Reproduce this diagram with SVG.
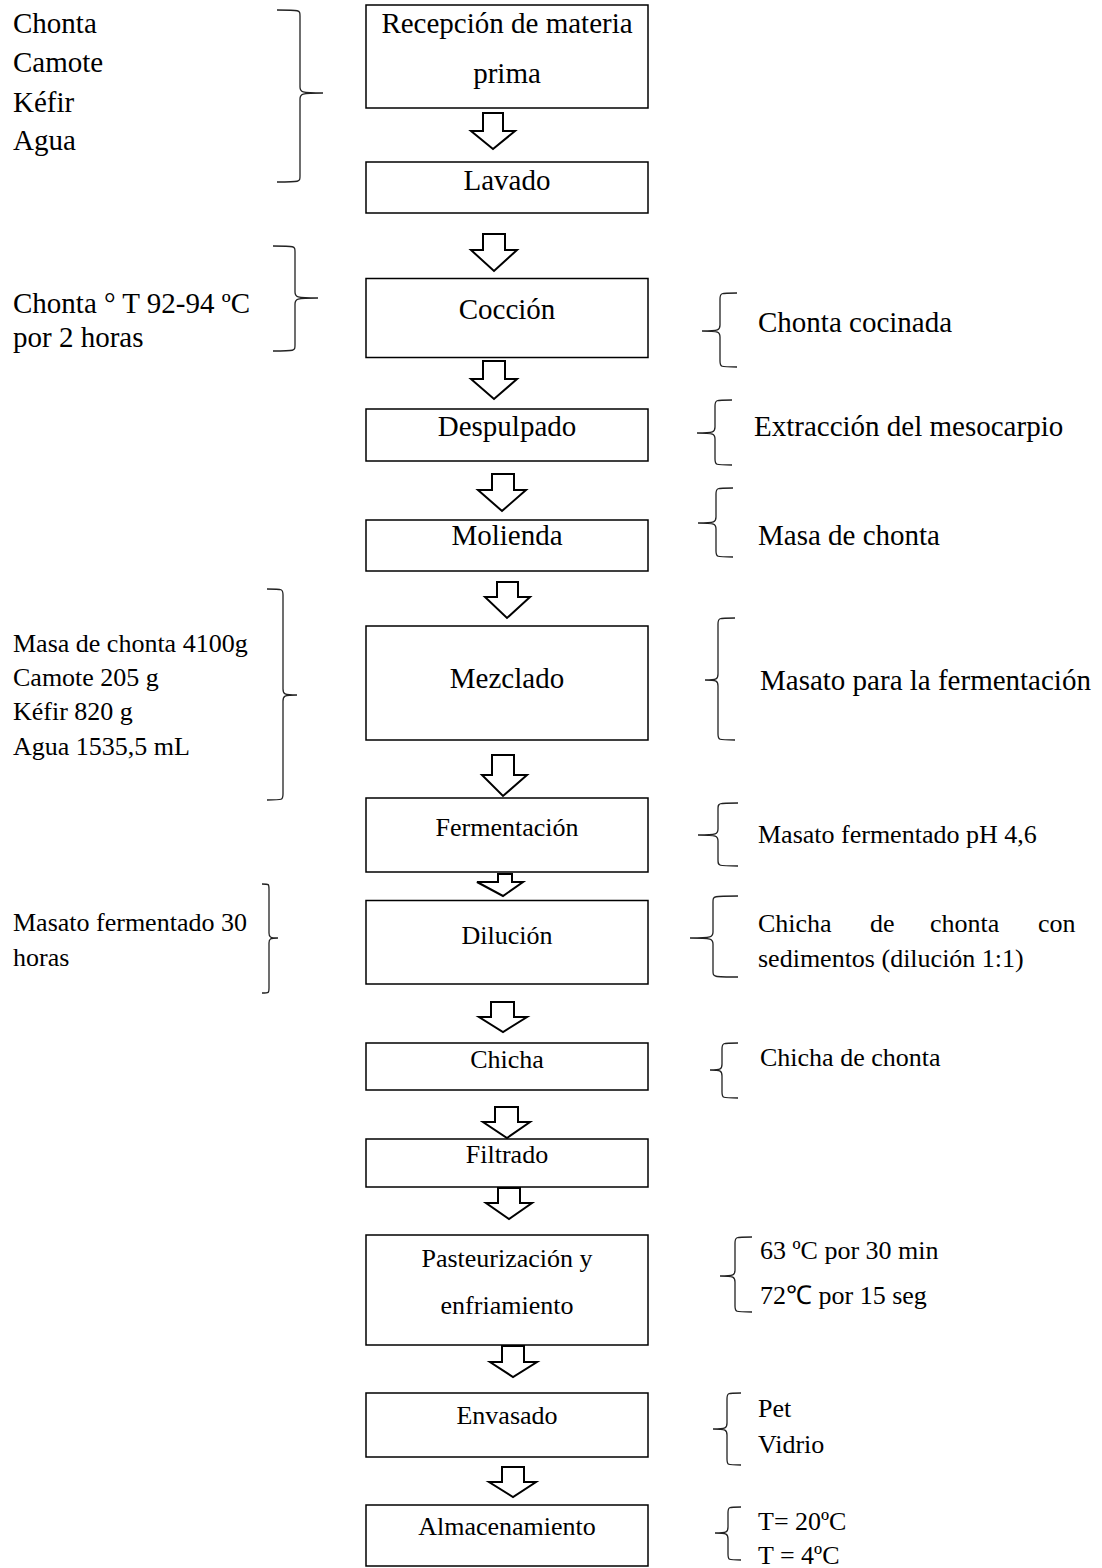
<svg xmlns="http://www.w3.org/2000/svg" width="1102" height="1568" viewBox="0 0 1102 1568">
<style>
text{font-family:"Liberation Serif","Times New Roman",serif;fill:#000}
.b{font-size:29px}
.s{font-size:26px}
.c{text-anchor:middle}
.box{fill:#fff;stroke:#000;stroke-width:1.5}
.arr{fill:#fff;stroke:#000;stroke-width:2;stroke-linejoin:miter}
.br{fill:none;stroke:#222;stroke-width:1.3}
</style>
<rect width="1102" height="1568" fill="#fff"/>

<g id="connectors">
<path class="arr" d="M483,113 L503,113 L503,131 L515,131 L493,149 L471,131 L483,131 Z"/>
<path class="arr" d="M483,234 L505,234 L505,250 L517,250 L494,271 L471,250 L483,250 Z"/>
<path class="arr" d="M483,361 L505,361 L505,379 L517,379 L494,399 L471,379 L483,379 Z"/>
<path class="arr" d="M492,474 L514,474 L514,490 L526,490 L502,511 L478,490 L492,490 Z"/>
<path class="arr" d="M497,582 L518,582 L518,597 L530,597 L507,618 L485,597 L497,597 Z"/>
<path class="arr" d="M492,755 L514,755 L514,775 L527,775 L503,796 L482,775 L492,775 Z"/>
<path class="arr" d="M498,874 L512,874 L512,882 L523,882 L503,896 L477,882 L498,882 Z"/>
<path class="arr" d="M491,1002 L514,1002 L514,1017 L527,1017 L503,1032 L479,1017 L491,1017 Z"/>
<path class="arr" d="M495,1107 L518,1107 L518,1122 L530,1122 L507,1138 L483,1122 L495,1122 Z"/>
<path class="arr" d="M498,1188 L520,1188 L520,1203 L532,1203 L509,1219 L486,1203 L498,1203 Z"/>
<path class="arr" d="M502,1346 L524,1346 L524,1362 L537,1362 L513,1377 L490,1362 L502,1362 Z"/>
<path class="arr" d="M502,1467 L524,1467 L524,1482 L536,1482 L513,1497 L489,1482 L502,1482 Z"/>
</g>

<g id="n1"><rect class="box" x="366" y="5" width="282" height="103"/><text class="b c" x="507" y="33">Recepción de materia</text><text class="b c" x="507" y="83">prima</text></g>
<g id="n2"><rect class="box" x="366" y="162" width="282" height="51"/><text class="b c" x="507" y="190">Lavado</text></g>
<g id="n3"><rect class="box" x="366" y="278.5" width="282" height="79"/><text class="b c" x="507" y="319">Cocción</text></g>
<g id="n4"><rect class="box" x="366" y="409" width="282" height="52"/><text class="b c" x="507" y="436">Despulpado</text></g>
<g id="n5"><rect class="box" x="366" y="520" width="282" height="51"/><text class="b c" x="507" y="545">Molienda</text></g>
<g id="n6"><rect class="box" x="366" y="626" width="282" height="114"/><text class="b c" x="507" y="688">Mezclado</text></g>
<g id="n7"><rect class="box" x="366" y="798" width="282" height="74"/><text class="s c" x="507" y="836">Fermentación</text></g>
<g id="n8"><rect class="box" x="366" y="900.5" width="282" height="83.5"/><text class="s c" x="507" y="944">Dilución</text></g>
<g id="n9"><rect class="box" x="366" y="1043" width="282" height="47"/><text class="s c" x="507" y="1068">Chicha</text></g>
<g id="n10"><rect class="box" x="366" y="1139" width="282" height="48"/><text class="s c" x="507" y="1163">Filtrado</text></g>
<g id="n11"><rect class="box" x="366" y="1235" width="282" height="110"/><text class="s c" x="507" y="1267">Pasteurización y</text><text class="s c" x="507" y="1314">enfriamiento</text></g>
<g id="n12"><rect class="box" x="366" y="1393" width="282" height="64"/><text class="s c" x="507" y="1424">Envasado</text></g>
<g id="n13"><rect class="box" x="366" y="1505" width="282" height="61"/><text class="s c" x="507" y="1535">Almacenamiento</text></g>

<g id="in1">
<path class="br" d="M277,10 C300,10 300,10 300,16 L300,87 C300,92 301,93 323,93 M323,93 C301,93 300,94 300,99 L300,176 C300,182 300,182 277,182"/>
<text class="b" x="13" y="33">Chonta</text><text class="b" x="13" y="72">Camote</text><text class="b" x="13" y="112">Kéfir</text><text class="b" x="13" y="150">Agua</text>
</g>
<g id="in2">
<path class="br" d="M273,246 C295,246 295,246 295,252 L295,292 C295,297 296,298 318,298 M318,298 C296,298 295,299 295,304 L295,345 C295,351 295,351 273,351"/>
<text class="b" x="13" y="313">Chonta ° T 92-94 ºC</text><text class="b" x="13" y="347">por 2 horas</text>
</g>
<g id="in3">
<path class="br" d="M267,589 C283,589 283,589 283,595 L283,689 C283,694 284,695 297,695 M297,695 C284,695 283,696 283,701 L283,794 C283,800 283,800 267,800"/>
<text class="s" x="13" y="652">Masa de chonta 4100g</text><text class="s" x="13" y="686">Camote 205 g</text><text class="s" x="13" y="720">Kéfir 820 g</text><text class="s" x="13" y="755">Agua 1535,5 mL</text>
</g>
<g id="in4">
<path class="br" d="M262,884 C269,884 269,884 269,889 L269,933 C269,937 270,938 278,938 M278,938 C270,938 269,939 269,943 L269,988 C269,993 269,993 262,993"/>
<text class="s" x="13" y="931">Masato fermentado 30</text><text class="s" x="13" y="966">horas</text>
</g>

<g id="out1">
<path class="br" d="M737,293 C720,293 720,293 720,299 L720,325 C720,330 719,331 702,331 M702,331 C719,331 720,332 720,337 L720,361 C720,367 720,367 737,367"/>
<text class="b" x="758" y="332">Chonta cocinada</text>
</g>
<g id="out2">
<path class="br" d="M732,400 C715,400 715,400 715,406 L715,427 C715,432 714,433 697,433 M697,433 C714,433 715,434 715,439 L715,459 C715,465 715,465 732,465"/>
<text class="b" x="754" y="436">Extracción del mesocarpio</text>
</g>
<g id="out3">
<path class="br" d="M733,488 C716,488 716,488 716,494 L716,517 C716,522 715,523 698,523 M698,523 C715,523 716,524 716,529 L716,551 C716,557 716,557 733,557"/>
<text class="b" x="758" y="545">Masa de chonta</text>
</g>
<g id="out4">
<path class="br" d="M735,618 C718,618 718,618 718,624 L718,674 C718,679 717,680 705,680 M705,680 C717,680 718,681 718,686 L718,734 C718,740 718,740 735,740"/>
<text class="b" x="760" y="690">Masato para la fermentación</text>
</g>
<g id="out5">
<path class="br" d="M738,803 C718,803 718,803 718,809 L718,829 C718,834 717,835 698,835 M698,835 C717,835 718,836 718,841 L718,860 C718,866 718,866 738,866"/>
<text class="s" x="758" y="843">Masato fermentado pH 4,6</text>
</g>
<g id="out6">
<path class="br" d="M738,896 C713,896 713,896 713,902 L713,932 C713,937 712,938 690,938 M690,938 C712,938 713,939 713,944 L713,971 C713,977 713,977 738,977"/>
<text class="s" x="758" y="932">Chicha</text><text class="s" x="870" y="932">de</text><text class="s" x="930" y="932">chonta</text><text class="s" x="1038" y="932">con</text>
<text class="s" x="758" y="967">sedimentos (dilución 1:1)</text>
</g>
<g id="out7">
<path class="br" d="M738,1043 C722,1043 722,1043 722,1049 L722,1064 C722,1069 721,1070 710,1070 M710,1070 C721,1070 722,1071 722,1076 L722,1092 C722,1098 722,1098 738,1098"/>
<text class="s" x="760" y="1066">Chicha de chonta</text>
</g>
<g id="out8">
<path class="br" d="M752,1237 C735,1237 735,1237 735,1243 L735,1270 C735,1275 734,1276 720,1276 M720,1276 C734,1276 735,1277 735,1282 L735,1306 C735,1312 735,1312 752,1312"/>
<text class="s" x="760" y="1259">63 ºC por 30 min</text><text class="s" x="760" y="1304">72℃ por 15 seg</text>
</g>
<g id="out9">
<path class="br" d="M741,1393 C727,1393 727,1393 727,1399 L727,1423 C727,1428 726,1429 713,1429 M713,1429 C726,1429 727,1430 727,1435 L727,1459 C727,1465 727,1465 741,1465"/>
<text class="s" x="758" y="1417">Pet</text><text class="s" x="758" y="1453">Vidrio</text>
</g>
<g id="out10">
<path class="br" d="M741,1507 C728,1507 728,1507 728,1513 L728,1527 C728,1532 727,1533 715,1533 M715,1533 C727,1533 728,1534 728,1539 L728,1554 C728,1560 728,1560 741,1560"/>
<text class="s" x="758" y="1530">T= 20ºC</text><text class="s" x="758" y="1564">T = 4ºC</text>
</g>
</svg>
